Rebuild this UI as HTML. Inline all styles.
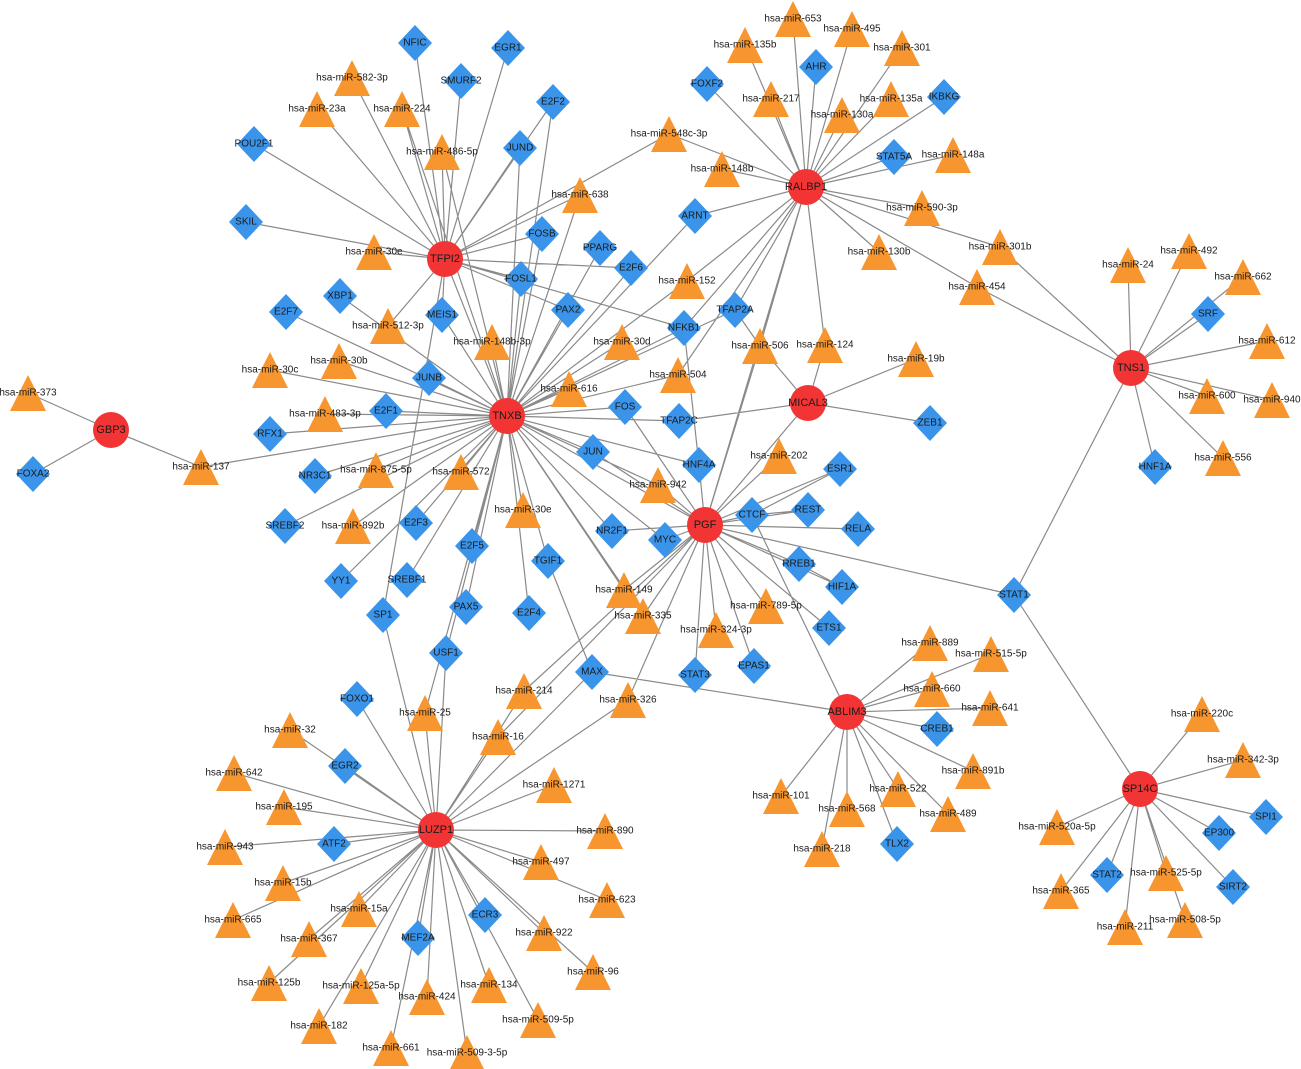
<!DOCTYPE html>
<html><head><meta charset="utf-8"><style>
html,body{margin:0;padding:0;background:#fff;}
svg{display:block;}
text{font-family:"Liberation Sans",sans-serif;font-size:10px;fill:#1a1a1a;text-anchor:middle;dominant-baseline:central;}
.h text{font-size:11px;}
</style></head><body>
<svg width="1301" height="1069" viewBox="0 0 1301 1069" xmlns="http://www.w3.org/2000/svg">
<defs>
<polygon id="t" points="0,-18 18,18 -18,18" fill="#F7962E"/>
<polygon id="d" points="0,-18 17,0 0,18 -17,0" fill="#3A94EA"/>
<ellipse id="c" rx="18" ry="18" fill="#F23434"/>
</defs>
<path stroke="#8a8a8a" stroke-width="1.2" fill="none" d="
M111 430L28 393M111 430L33 474M111 430L201 467M201 467L507 416
M445 259L415 43M445 259L352 78M445 259L461 81M445 259L317 109M445 259L402 109M445 259L508 48M445 259L553 102M445 259L254 144M445 259L442 152M445 259L520 148M445 259L580 195M445 259L669 134M445 259L246 222M445 259L542 234M445 259L374 252M445 259L521 279M445 259L442 315M445 259L507 416M445 259L388 326M445 259L568 310M445 259L684 328M445 259L631 268M445 259L383 615
M507 416L442 152M507 416L402 109M507 416L520 148M507 416L553 102M507 416L542 234M507 416L580 195M507 416L600 248M507 416L631 268M507 416L521 279M507 416L568 310M507 416L622 342M507 416L492 342M507 416L442 315M507 416L429 378M507 416L340 296M507 416L286 312M507 416L339 361M507 416L270 370M507 416L386 411M507 416L325 414M507 416L270 434M507 416L569 389M507 416L625 407M507 416L593 452M507 416L315 476M507 416L376 470M507 416L461 472M507 416L523 510M507 416L285 526M507 416L353 526M507 416L416 523M507 416L612 531M507 416L472 546M507 416L548 561M507 416L341 581M507 416L407 580M507 416L466 607M507 416L529 613M507 416L624 590M507 416L643 616M507 416L446 653M507 416L678 375M507 416L684 328M507 416L679 421M507 416L699 465M507 416L658 485M507 416L705 525M507 416L687 281M507 416L695 216M507 416L735 310M507 416L425 713M507 416L665 540
M548 561L592 672M446 653L436 830M383 615L436 830M425 713L436 830
M806 187L793 19M806 187L852 29M806 187L745 45M806 187L902 48M806 187L816 67M806 187L707 84M806 187L771 99M806 187L891 99M806 187L944 97M806 187L842 115M806 187L669 134M806 187L894 157M806 187L953 155M806 187L722 169M806 187L922 208M806 187L695 216M806 187L1000 247M806 187L879 252M806 187L977 287M806 187L687 281M806 187L735 310M806 187L684 328M806 187L760 346M806 187L825 345M806 187L705 525M806 187L678 375
M1000 247L1131 368M977 287L1131 368
M1131 368L1128 265M1131 368L1189 251M1131 368L1243 277M1131 368L1208 314M1131 368L1267 341M1131 368L1207 396M1131 368L1272 400M1131 368L1223 458M1131 368L1155 467M1131 368L1014 595
M808 403L916 359M808 403L930 423M808 403L679 421M808 403L825 345M808 403L760 346M808 403L705 525M735 310L760 346M684 328L699 465
M705 525L779 456M705 525L840 469M705 525L752 515M705 525L808 510M705 525L858 529M705 525L799 564M705 525L842 587M705 525L829 628M705 525L766 606M705 525L754 666M705 525L695 675M705 525L716 630M705 525L643 616M705 525L624 590M705 525L524 691M705 525L665 540M705 525L612 531M705 525L658 485M705 525L699 465M705 525L593 452M705 525L625 407M705 525L1014 595M705 525L628 700M705 525L498 737M705 525L760 346
M752 515L840 469M752 515L808 510M752 515L847 712M799 564L842 587
M847 712L930 643M847 712L991 654M847 712L932 689M847 712L990 708M847 712L937 729M847 712L973 771M847 712L781 796M847 712L847 809M847 712L898 789M847 712L948 814M847 712L897 844M847 712L822 849M847 712L592 672
M1140 789L1202 714M1140 789L1243 760M1140 789L1266 817M1140 789L1219 833M1140 789L1233 887M1140 789L1057 827M1140 789L1107 875M1140 789L1166 873M1140 789L1061 891M1140 789L1125 927M1140 789L1185 920M1140 789L1014 595
M436 830L357 699M436 830L290 730M436 830L345 766M436 830L234 773M436 830L284 807M436 830L225 847M436 830L334 844M436 830L283 883M436 830L233 920M436 830L359 909M436 830L309 939M436 830L269 983M436 830L418 938M436 830L361 986M436 830L319 1026M436 830L391 1048M436 830L427 997M436 830L467 1053M436 830L489 985M436 830L538 1020M436 830L485 915M436 830L593 972M436 830L544 933M436 830L607 900M436 830L541 862M436 830L605 831M436 830L554 785M436 830L498 737M436 830L524 691M436 830L592 672M436 830L628 700
"/>
<g>
<g transform="translate(28,393)"><use href="#t"/><text>hsa-miR-373</text></g>
<g transform="translate(33,474)"><use href="#d"/><text>FOXA2</text></g>
<g transform="translate(201,467)"><use href="#t"/><text>hsa-miR-137</text></g>
<g transform="translate(415,43)"><use href="#d"/><text>NFIC</text></g>
<g transform="translate(508,48)"><use href="#d"/><text>EGR1</text></g>
<g transform="translate(352,78)"><use href="#t"/><text>hsa-miR-582-3p</text></g>
<g transform="translate(461,81)"><use href="#d"/><text>SMURF2</text></g>
<g transform="translate(317,109)"><use href="#t"/><text>hsa-miR-23a</text></g>
<g transform="translate(402,109)"><use href="#t"/><text>hsa-miR-224</text></g>
<g transform="translate(553,102)"><use href="#d"/><text>E2F2</text></g>
<g transform="translate(254,144)"><use href="#d"/><text>POU2F1</text></g>
<g transform="translate(442,152)"><use href="#t"/><text>hsa-miR-486-5p</text></g>
<g transform="translate(520,148)"><use href="#d"/><text>JUND</text></g>
<g transform="translate(580,195)"><use href="#t"/><text>hsa-miR-638</text></g>
<g transform="translate(246,222)"><use href="#d"/><text>SKIL</text></g>
<g transform="translate(542,234)"><use href="#d"/><text>FOSB</text></g>
<g transform="translate(600,248)"><use href="#d"/><text>PPARG</text></g>
<g transform="translate(374,252)"><use href="#t"/><text>hsa-miR-30e</text></g>
<g transform="translate(631,268)"><use href="#d"/><text>E2F6</text></g>
<g transform="translate(521,279)"><use href="#d"/><text>FOSL1</text></g>
<g transform="translate(340,296)"><use href="#d"/><text>XBP1</text></g>
<g transform="translate(286,312)"><use href="#d"/><text>E2F7</text></g>
<g transform="translate(568,310)"><use href="#d"/><text>PAX2</text></g>
<g transform="translate(442,315)"><use href="#d"/><text>MEIS1</text></g>
<g transform="translate(388,326)"><use href="#t"/><text>hsa-miR-512-3p</text></g>
<g transform="translate(492,342)"><use href="#t"/><text>hsa-miR-148b-3p</text></g>
<g transform="translate(622,342)"><use href="#t"/><text>hsa-miR-30d</text></g>
<g transform="translate(339,361)"><use href="#t"/><text>hsa-miR-30b</text></g>
<g transform="translate(270,370)"><use href="#t"/><text>hsa-miR-30c</text></g>
<g transform="translate(429,378)"><use href="#d"/><text>JUNB</text></g>
<g transform="translate(569,389)"><use href="#t"/><text>hsa-miR-616</text></g>
<g transform="translate(625,407)"><use href="#d"/><text>FOS</text></g>
<g transform="translate(386,411)"><use href="#d"/><text>E2F1</text></g>
<g transform="translate(325,414)"><use href="#t"/><text>hsa-miR-483-3p</text></g>
<g transform="translate(270,434)"><use href="#d"/><text>RFX1</text></g>
<g transform="translate(593,452)"><use href="#d"/><text>JUN</text></g>
<g transform="translate(315,476)"><use href="#d"/><text>NR3C1</text></g>
<g transform="translate(376,470)"><use href="#t"/><text>hsa-miR-875-5p</text></g>
<g transform="translate(461,472)"><use href="#t"/><text>hsa-miR-572</text></g>
<g transform="translate(523,510)"><use href="#t"/><text>hsa-miR-30e</text></g>
<g transform="translate(285,526)"><use href="#d"/><text>SREBF2</text></g>
<g transform="translate(353,526)"><use href="#t"/><text>hsa-miR-892b</text></g>
<g transform="translate(416,523)"><use href="#d"/><text>E2F3</text></g>
<g transform="translate(612,531)"><use href="#d"/><text>NR2F1</text></g>
<g transform="translate(472,546)"><use href="#d"/><text>E2F5</text></g>
<g transform="translate(548,561)"><use href="#d"/><text>TGIF1</text></g>
<g transform="translate(341,581)"><use href="#d"/><text>YY1</text></g>
<g transform="translate(407,580)"><use href="#d"/><text>SREBF1</text></g>
<g transform="translate(466,607)"><use href="#d"/><text>PAX5</text></g>
<g transform="translate(529,613)"><use href="#d"/><text>E2F4</text></g>
<g transform="translate(383,615)"><use href="#d"/><text>SP1</text></g>
<g transform="translate(624,590)"><use href="#t"/><text>hsa-miR-149</text></g>
<g transform="translate(643,616)"><use href="#t"/><text>hsa-miR-335</text></g>
<g transform="translate(446,653)"><use href="#d"/><text>USF1</text></g>
<g transform="translate(592,672)"><use href="#d"/><text>MAX</text></g>
<g transform="translate(524,691)"><use href="#t"/><text>hsa-miR-214</text></g>
<g transform="translate(628,700)"><use href="#t"/><text>hsa-miR-326</text></g>
<g transform="translate(357,699)"><use href="#d"/><text>FOXO1</text></g>
<g transform="translate(425,713)"><use href="#t"/><text>hsa-miR-25</text></g>
<g transform="translate(290,730)"><use href="#t"/><text>hsa-miR-32</text></g>
<g transform="translate(498,737)"><use href="#t"/><text>hsa-miR-16</text></g>
<g transform="translate(345,766)"><use href="#d"/><text>EGR2</text></g>
<g transform="translate(234,773)"><use href="#t"/><text>hsa-miR-642</text></g>
<g transform="translate(554,785)"><use href="#t"/><text>hsa-miR-1271</text></g>
<g transform="translate(284,807)"><use href="#t"/><text>hsa-miR-195</text></g>
<g transform="translate(605,831)"><use href="#t"/><text>hsa-miR-890</text></g>
<g transform="translate(334,844)"><use href="#d"/><text>ATF2</text></g>
<g transform="translate(225,847)"><use href="#t"/><text>hsa-miR-943</text></g>
<g transform="translate(541,862)"><use href="#t"/><text>hsa-miR-497</text></g>
<g transform="translate(283,883)"><use href="#t"/><text>hsa-miR-15b</text></g>
<g transform="translate(607,900)"><use href="#t"/><text>hsa-miR-623</text></g>
<g transform="translate(359,909)"><use href="#t"/><text>hsa-miR-15a</text></g>
<g transform="translate(233,920)"><use href="#t"/><text>hsa-miR-665</text></g>
<g transform="translate(485,915)"><use href="#d"/><text>ECR3</text></g>
<g transform="translate(544,933)"><use href="#t"/><text>hsa-miR-922</text></g>
<g transform="translate(309,939)"><use href="#t"/><text>hsa-miR-367</text></g>
<g transform="translate(418,938)"><use href="#d"/><text>MEF2A</text></g>
<g transform="translate(593,972)"><use href="#t"/><text>hsa-miR-96</text></g>
<g transform="translate(269,983)"><use href="#t"/><text>hsa-miR-125b</text></g>
<g transform="translate(361,986)"><use href="#t"/><text>hsa-miR-125a-5p</text></g>
<g transform="translate(489,985)"><use href="#t"/><text>hsa-miR-134</text></g>
<g transform="translate(427,997)"><use href="#t"/><text>hsa-miR-424</text></g>
<g transform="translate(538,1020)"><use href="#t"/><text>hsa-miR-509-5p</text></g>
<g transform="translate(319,1026)"><use href="#t"/><text>hsa-miR-182</text></g>
<g transform="translate(391,1048)"><use href="#t"/><text>hsa-miR-661</text></g>
<g transform="translate(467,1053)"><use href="#t"/><text>hsa-miR-509-3-5p</text></g>
<g transform="translate(793,19)"><use href="#t"/><text>hsa-miR-653</text></g>
<g transform="translate(852,29)"><use href="#t"/><text>hsa-miR-495</text></g>
<g transform="translate(745,45)"><use href="#t"/><text>hsa-miR-135b</text></g>
<g transform="translate(902,48)"><use href="#t"/><text>hsa-miR-301</text></g>
<g transform="translate(816,67)"><use href="#d"/><text>AHR</text></g>
<g transform="translate(707,84)"><use href="#d"/><text>FOXF2</text></g>
<g transform="translate(771,99)"><use href="#t"/><text>hsa-miR-217</text></g>
<g transform="translate(891,99)"><use href="#t"/><text>hsa-miR-135a</text></g>
<g transform="translate(944,97)"><use href="#d"/><text>IKBKG</text></g>
<g transform="translate(842,115)"><use href="#t"/><text>hsa-miR-130a</text></g>
<g transform="translate(669,134)"><use href="#t"/><text>hsa-miR-548c-3p</text></g>
<g transform="translate(894,157)"><use href="#d"/><text>STAT5A</text></g>
<g transform="translate(953,155)"><use href="#t"/><text>hsa-miR-148a</text></g>
<g transform="translate(722,169)"><use href="#t"/><text>hsa-miR-148b</text></g>
<g transform="translate(922,208)"><use href="#t"/><text>hsa-miR-590-3p</text></g>
<g transform="translate(695,216)"><use href="#d"/><text>ARNT</text></g>
<g transform="translate(1000,247)"><use href="#t"/><text>hsa-miR-301b</text></g>
<g transform="translate(879,252)"><use href="#t"/><text>hsa-miR-130b</text></g>
<g transform="translate(1189,251)"><use href="#t"/><text>hsa-miR-492</text></g>
<g transform="translate(1128,265)"><use href="#t"/><text>hsa-miR-24</text></g>
<g transform="translate(687,281)"><use href="#t"/><text>hsa-miR-152</text></g>
<g transform="translate(977,287)"><use href="#t"/><text>hsa-miR-454</text></g>
<g transform="translate(1243,277)"><use href="#t"/><text>hsa-miR-662</text></g>
<g transform="translate(735,310)"><use href="#d"/><text>TFAP2A</text></g>
<g transform="translate(1208,314)"><use href="#d"/><text>SRF</text></g>
<g transform="translate(684,328)"><use href="#d"/><text>NFKB1</text></g>
<g transform="translate(760,346)"><use href="#t"/><text>hsa-miR-506</text></g>
<g transform="translate(825,345)"><use href="#t"/><text>hsa-miR-124</text></g>
<g transform="translate(1267,341)"><use href="#t"/><text>hsa-miR-612</text></g>
<g transform="translate(916,359)"><use href="#t"/><text>hsa-miR-19b</text></g>
<g transform="translate(678,375)"><use href="#t"/><text>hsa-miR-504</text></g>
<g transform="translate(1207,396)"><use href="#t"/><text>hsa-miR-600</text></g>
<g transform="translate(1272,400)"><use href="#t"/><text>hsa-miR-940</text></g>
<g transform="translate(679,421)"><use href="#d"/><text>TFAP2C</text></g>
<g transform="translate(930,423)"><use href="#d"/><text>ZEB1</text></g>
<g transform="translate(699,465)"><use href="#d"/><text>HNF4A</text></g>
<g transform="translate(779,456)"><use href="#t"/><text>hsa-miR-202</text></g>
<g transform="translate(840,469)"><use href="#d"/><text>ESR1</text></g>
<g transform="translate(1223,458)"><use href="#t"/><text>hsa-miR-556</text></g>
<g transform="translate(1155,467)"><use href="#d"/><text>HNF1A</text></g>
<g transform="translate(658,485)"><use href="#t"/><text>hsa-miR-942</text></g>
<g transform="translate(752,515)"><use href="#d"/><text>CTCF</text></g>
<g transform="translate(808,510)"><use href="#d"/><text>REST</text></g>
<g transform="translate(858,529)"><use href="#d"/><text>RELA</text></g>
<g transform="translate(665,540)"><use href="#d"/><text>MYC</text></g>
<g transform="translate(799,564)"><use href="#d"/><text>RREB1</text></g>
<g transform="translate(842,587)"><use href="#d"/><text>HIF1A</text></g>
<g transform="translate(1014,595)"><use href="#d"/><text>STAT1</text></g>
<g transform="translate(766,606)"><use href="#t"/><text>hsa-miR-789-5p</text></g>
<g transform="translate(829,628)"><use href="#d"/><text>ETS1</text></g>
<g transform="translate(716,630)"><use href="#t"/><text>hsa-miR-324-3p</text></g>
<g transform="translate(930,643)"><use href="#t"/><text>hsa-miR-889</text></g>
<g transform="translate(991,654)"><use href="#t"/><text>hsa-miR-515-5p</text></g>
<g transform="translate(754,666)"><use href="#d"/><text>EPAS1</text></g>
<g transform="translate(695,675)"><use href="#d"/><text>STAT3</text></g>
<g transform="translate(932,689)"><use href="#t"/><text>hsa-miR-660</text></g>
<g transform="translate(990,708)"><use href="#t"/><text>hsa-miR-641</text></g>
<g transform="translate(1202,714)"><use href="#t"/><text>hsa-miR-220c</text></g>
<g transform="translate(937,729)"><use href="#d"/><text>CREB1</text></g>
<g transform="translate(1243,760)"><use href="#t"/><text>hsa-miR-342-3p</text></g>
<g transform="translate(973,771)"><use href="#t"/><text>hsa-miR-891b</text></g>
<g transform="translate(781,796)"><use href="#t"/><text>hsa-miR-101</text></g>
<g transform="translate(898,789)"><use href="#t"/><text>hsa-miR-522</text></g>
<g transform="translate(847,809)"><use href="#t"/><text>hsa-miR-568</text></g>
<g transform="translate(948,814)"><use href="#t"/><text>hsa-miR-489</text></g>
<g transform="translate(1266,817)"><use href="#d"/><text>SPI1</text></g>
<g transform="translate(1057,827)"><use href="#t"/><text>hsa-miR-520a-5p</text></g>
<g transform="translate(1219,833)"><use href="#d"/><text>EP300</text></g>
<g transform="translate(897,844)"><use href="#d"/><text>TLX2</text></g>
<g transform="translate(822,849)"><use href="#t"/><text>hsa-miR-218</text></g>
<g transform="translate(1107,875)"><use href="#d"/><text>STAT2</text></g>
<g transform="translate(1166,873)"><use href="#t"/><text>hsa-miR-525-5p</text></g>
<g transform="translate(1233,887)"><use href="#d"/><text>SIRT2</text></g>
<g transform="translate(1061,891)"><use href="#t"/><text>hsa-miR-365</text></g>
<g transform="translate(1125,927)"><use href="#t"/><text>hsa-miR-211</text></g>
<g transform="translate(1185,920)"><use href="#t"/><text>hsa-miR-508-5p</text></g>
</g>
<g class="h">
<g transform="translate(445,259)"><use href="#c"/><text>TFPI2</text></g>
<g transform="translate(806,187)"><use href="#c"/><text>RALBP1</text></g>
<g transform="translate(507,416)"><use href="#c"/><text>TNXB</text></g>
<g transform="translate(111,430)"><use href="#c"/><text>GBP3</text></g>
<g transform="translate(808,403)"><use href="#c"/><text>MICAL3</text></g>
<g transform="translate(705,525)"><use href="#c"/><text>PGF</text></g>
<g transform="translate(1131,368)"><use href="#c"/><text>TNS1</text></g>
<g transform="translate(847,712)"><use href="#c"/><text>ABLIM3</text></g>
<g transform="translate(1140,789)"><use href="#c"/><text>SP14C</text></g>
<g transform="translate(436,830)"><use href="#c"/><text>LUZP1</text></g>
</g>
</svg>
</body></html>
